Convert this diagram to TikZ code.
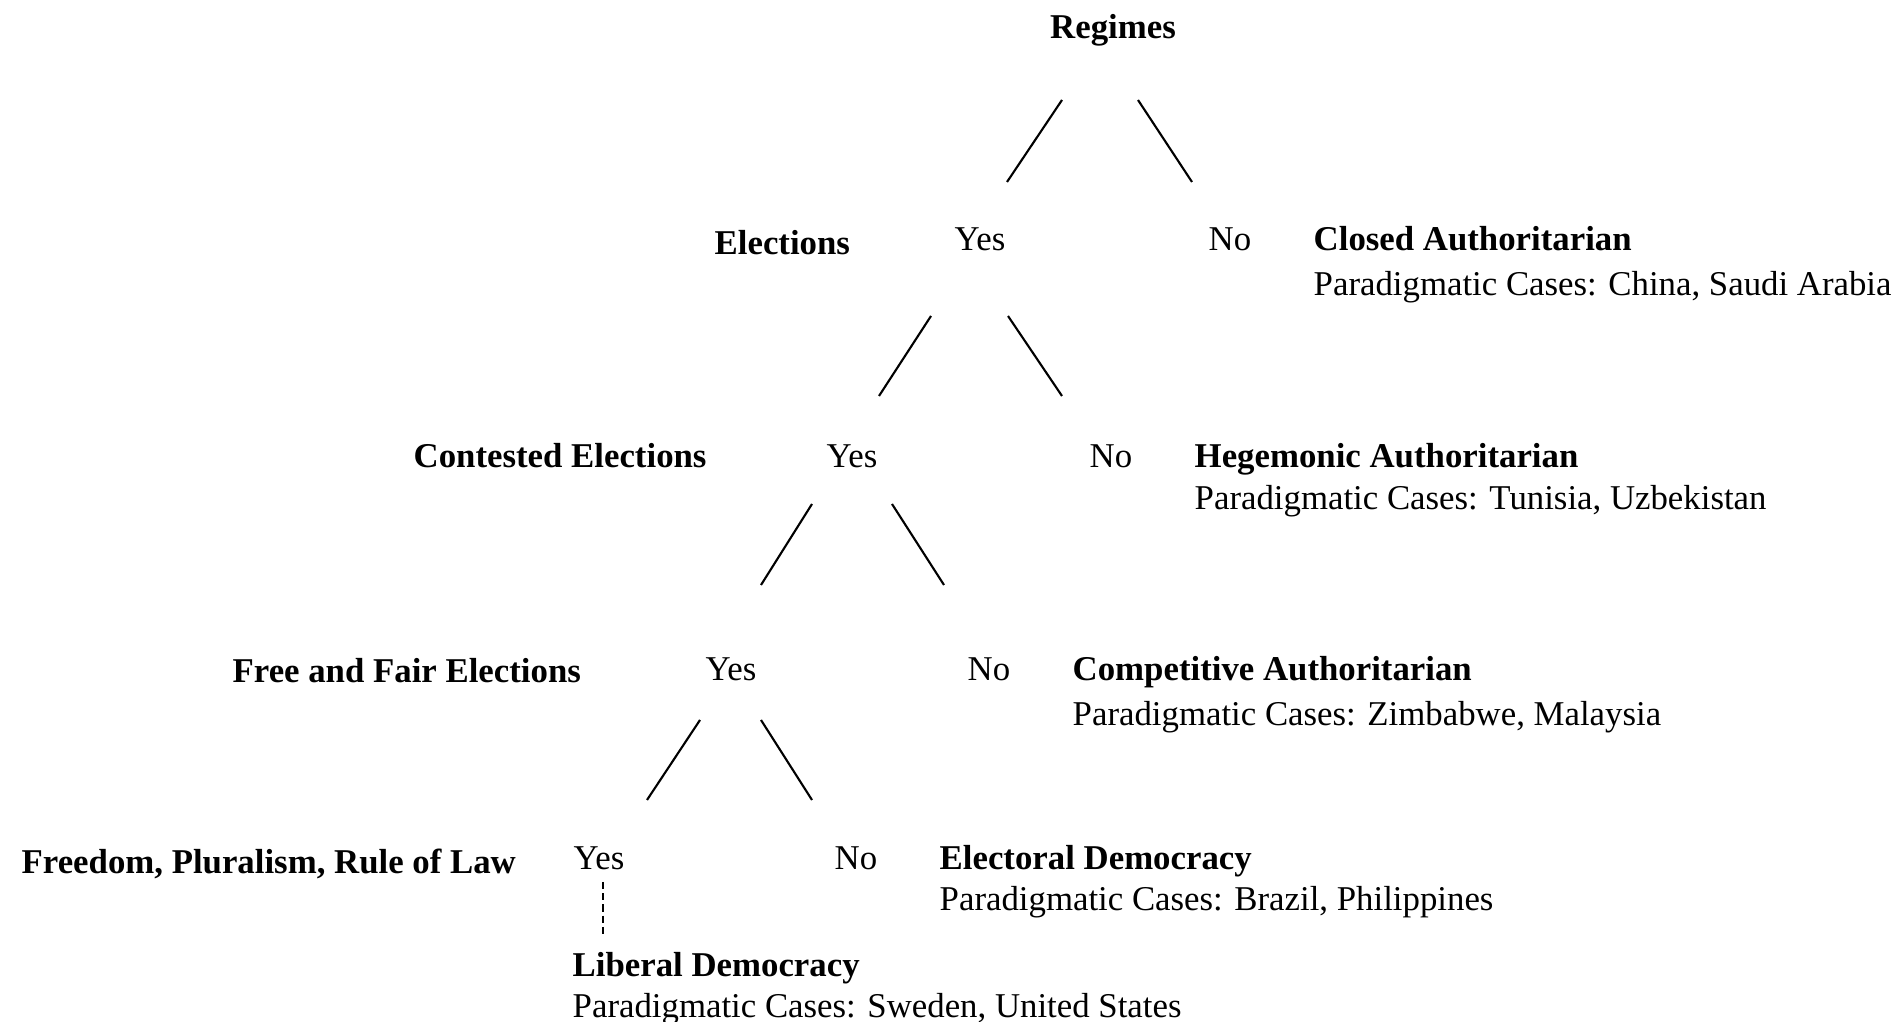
\documentclass[tikz,border=0pt]{standalone}
\usepackage{fontspec}
\setmainfont{Liberation Serif}
\begin{document}
\begin{tikzpicture}[x=0.1mm,y=-0.1mm,
  lbl/.style={anchor=base west, inner sep=0pt, font=\fontsize{9.9}{12}\selectfont},
  hd/.style={lbl, font=\fontsize{9.9}{12}\selectfont\bfseries},
  branch/.style={line width=0.6pt},
  leafline/.style={line width=0.6pt, dash pattern=on 2pt off 1.2pt}]
\useasboundingbox (0,0) rectangle (1903,1022);
% row 1
\node[hd, anchor=base] (reg) at (1113,39) {Regimes};
% row 2
\node[hd] (q1) at (714,255) {Elections};
\node[lbl] (y1) at (954,251) {Yes};
\node[lbl] (n1) at (1208,251) {No};
\node[hd] (c1) at (1313,251) {Closed Authoritarian};
\node[lbl] (p1) at (1313,296) {Paradigmatic Cases: China, Saudi Arabia};
% row 3
\node[hd] (q2) at (413,468) {Contested Elections};
\node[lbl] (y2) at (826,468) {Yes};
\node[lbl] (n2) at (1089,468) {No};
\node[hd] (c2) at (1194,468) {Hegemonic Authoritarian};
\node[lbl] (p2) at (1194,510) {Paradigmatic Cases: Tunisia, Uzbekistan};
% row 4
\node[hd] (q3) at (232,683) {Free and Fair Elections};
\node[lbl] (y3) at (705,681) {Yes};
\node[lbl] (n3) at (967,681) {No};
\node[hd] (c3) at (1072,681) {Competitive Authoritarian};
\node[lbl] (p3) at (1072,726) {Paradigmatic Cases: Zimbabwe, Malaysia};
% row 5
\node[hd] (q4) at (21,874) {Freedom, Pluralism, Rule of Law};
\node[lbl] (y4) at (573,870) {Yes};
\node[lbl] (n4) at (834,870) {No};
\node[hd] (c4) at (939,870) {Electoral Democracy};
\node[lbl] (p4) at (939,911) {Paradigmatic Cases: Brazil, Philippines};
% leaf
\node[hd] (c5) at (572,977) {Liberal Democracy};
\node[lbl] (p5) at (572,1018) {Paradigmatic Cases: Sweden, United States};
% branch ends
\coordinate (a1) at (1062,100); \coordinate (b1) at (1007,182);
\coordinate (a2) at (1138,100); \coordinate (b2) at (1192,182);
\coordinate (a3) at (931,316);  \coordinate (b3) at (879,396);
\coordinate (a4) at (1008,316); \coordinate (b4) at (1062,396);
\coordinate (a5) at (812,504);  \coordinate (b5) at (761,585);
\coordinate (a6) at (892,504);  \coordinate (b6) at (944,585);
\coordinate (a7) at (700,720);  \coordinate (b7) at (647,800);
\coordinate (a8) at (761,720);  \coordinate (b8) at (812,800);
\coordinate (d1) at (603,882);  \coordinate (d2) at (603,935);
\draw[branch] (a1) -- (b1);
\draw[branch] (a2) -- (b2);
\draw[branch] (a3) -- (b3);
\draw[branch] (a4) -- (b4);
\draw[branch] (a5) -- (b5);
\draw[branch] (a6) -- (b6);
\draw[branch] (a7) -- (b7);
\draw[branch] (a8) -- (b8);
\draw[leafline] (d1) -- (d2);
\end{tikzpicture}
\end{document}
